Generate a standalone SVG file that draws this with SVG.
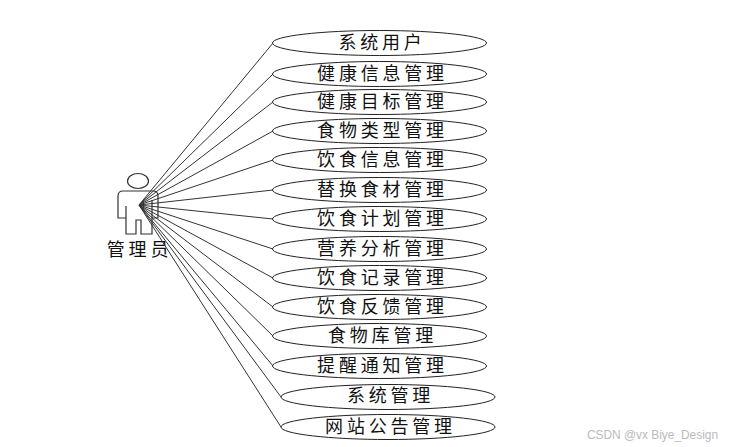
<svg xmlns="http://www.w3.org/2000/svg" width="733" height="447" viewBox="0 0 733 447">
<style>
.e{fill:#fff;stroke:#222;stroke-width:1}
.t{font-family:"Noto Sans CJK SC","Liberation Sans",sans-serif;font-size:18px;font-weight:400;letter-spacing:3.8px;fill:#111;text-anchor:middle}
.c line{stroke:#333;stroke-width:1}
.a{fill:#fff;stroke:#333;stroke-width:1.2}
</style>
<rect width="733" height="447" fill="#fff"/>
<g id="actor">
<ellipse class="a" cx="138" cy="181" rx="10.5" ry="7.5"/>
<path class="a" d="M123 191H153Q158 191 158 196V218H152V200M152 218V234H141V220H136V234H126V206M126 206V218H118V196Q118 191 123 191"/>
<text class="t" x="139.5" y="256">管理员</text>
</g>
<g class="c" id="connectors">
<line x1="139" y1="205" x2="273" y2="43"/>
<line x1="139" y1="205" x2="273" y2="74"/>
<line x1="139" y1="205" x2="273" y2="102"/>
<line x1="139" y1="205" x2="273" y2="131"/>
<line x1="139" y1="205" x2="273" y2="160"/>
<line x1="139" y1="205" x2="273" y2="190"/>
<line x1="139" y1="205" x2="273" y2="219"/>
<line x1="139" y1="205" x2="273" y2="249"/>
<line x1="139" y1="205" x2="273" y2="278"/>
<line x1="139" y1="205" x2="273" y2="307"/>
<line x1="139" y1="205" x2="273" y2="336"/>
<line x1="139" y1="205" x2="273" y2="366"/>
<line x1="139" y1="205" x2="281" y2="397"/>
<line x1="139" y1="205" x2="281" y2="427"/>
</g>
<g id="n1"><ellipse class="e" cx="379.5" cy="43" rx="107" ry="12.5"/><text class="t" x="382" y="49">系统用户</text></g>
<g id="n2"><ellipse class="e" cx="379.5" cy="74" rx="107" ry="12.5"/><text class="t" x="382.5" y="79.5">健康信息管理</text></g>
<g id="n3"><ellipse class="e" cx="379.5" cy="102" rx="107" ry="12.5"/><text class="t" x="382.5" y="108">健康目标管理</text></g>
<g id="n4"><ellipse class="e" cx="379.5" cy="131" rx="107" ry="12.5"/><text class="t" x="382.5" y="137">食物类型管理</text></g>
<g id="n5"><ellipse class="e" cx="379.5" cy="160" rx="107" ry="12.5"/><text class="t" x="382.5" y="166">饮食信息管理</text></g>
<g id="n6"><ellipse class="e" cx="379.5" cy="190" rx="107" ry="12.5"/><text class="t" x="382.5" y="196">替换食材管理</text></g>
<g id="n7"><ellipse class="e" cx="379.5" cy="219" rx="107" ry="12.5"/><text class="t" x="382.5" y="225">饮食计划管理</text></g>
<g id="n8"><ellipse class="e" cx="379.5" cy="249" rx="107" ry="12.5"/><text class="t" x="382.5" y="255">营养分析管理</text></g>
<g id="n9"><ellipse class="e" cx="379.5" cy="278" rx="107" ry="12.5"/><text class="t" x="382.5" y="284">饮食记录管理</text></g>
<g id="n10"><ellipse class="e" cx="379.5" cy="307" rx="107" ry="12.5"/><text class="t" x="382.5" y="313">饮食反馈管理</text></g>
<g id="n11"><ellipse class="e" cx="379.5" cy="336" rx="107" ry="12.5"/><text class="t" x="382.5" y="341.5">食物库管理</text></g>
<g id="n12"><ellipse class="e" cx="379.5" cy="366" rx="107" ry="12.5"/><text class="t" x="382.5" y="372">提醒通知管理</text></g>
<g id="n13"><ellipse class="e" cx="388" cy="397" rx="107" ry="12.5"/><text class="t" x="390.5" y="402">系统管理</text></g>
<g id="n14"><ellipse class="e" cx="388" cy="427" rx="107" ry="12.5"/><text class="t" x="390.5" y="433">网站公告管理</text></g>
<text x="587" y="439" font-family="'Liberation Sans',sans-serif" font-size="11.9" fill="#bbb">CSDN @vx Biye_Design</text>
</svg>
